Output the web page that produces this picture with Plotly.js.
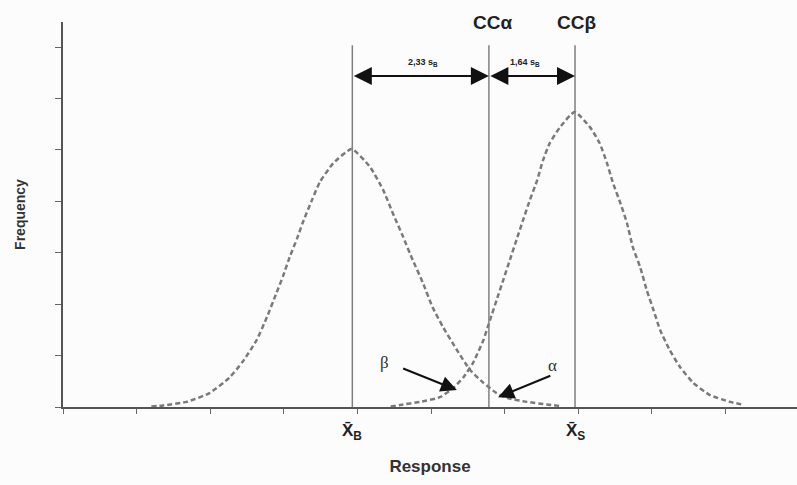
<!DOCTYPE html>
<html>
<head>
<meta charset="utf-8">
<script src="https://cdn.plot.ly/plotly-3.0.1.min.js"></script>
<style>
  html, body { margin: 0; padding: 0; background: #fcfcfc; }
  #chart { width: 797px; height: 485px; }
</style>
</head>
<body>
<div id="chart"></div>
<script>
// Blank distribution
const blankX = [1.20, 1.36, 1.68, 1.99, 2.26, 2.44, 2.63, 2.77, 2.90, 2.99, 3.08, 3.18, 3.26, 3.38, 3.49, 3.67, 3.92,
                4.17, 4.35, 4.48, 4.62, 4.75, 4.89, 5.02, 5.16, 5.35, 5.53, 5.71, 5.89, 6.05, 6.30, 6.57, 6.75];
const blankY = [0.01, 0.03, 0.10, 0.27, 0.57, 0.88, 1.30, 1.75, 2.22, 2.55, 2.92, 3.28, 3.60, 4.02, 4.38, 4.74, 5.02,
                4.67, 4.22, 3.77, 3.31, 2.86, 2.41, 1.94, 1.56, 1.11, 0.72, 0.47, 0.27, 0.17, 0.10, 0.05, 0.02];
// Signal distribution
const signalX = [4.45, 4.58, 4.85, 5.12, 5.30, 5.44, 5.57, 5.71, 5.80, 5.89, 5.98, 6.07, 6.16, 6.25, 6.34, 6.44, 6.52, 6.61, 6.75, 6.95,
                 7.16, 7.29, 7.39, 7.47, 7.57, 7.66, 7.74, 7.84, 7.93, 8.02, 8.11, 8.24, 8.38, 8.56, 8.79, 9.06, 9.25];
const signalY = [0.01, 0.04, 0.10, 0.19, 0.37, 0.58, 0.86, 1.30, 1.69, 2.08, 2.47, 2.86, 3.25, 3.64, 4.02, 4.41, 4.80, 5.13, 5.44, 5.74,
                 5.44, 5.13, 4.74, 4.36, 3.97, 3.58, 3.11, 2.72, 2.27, 1.89, 1.50, 1.11, 0.78, 0.47, 0.23, 0.10, 0.04];

// Key positions
const markerNames = ['xB', 'CCa', 'xS'];
const markerX = [3.93, 5.785, 6.955];
const lineTop = 7.04;
const arrowY = 6.44;
const intervalLabels = ['2,33 s<sub>B</sub>', '1,64 s<sub>B</sub>'];
const intervalLabelX = [4.89, 6.27];
const intervalLabelY = 6.71;
const topLabels = ['CCα', 'CCβ'];
const topLabelX = [5.83, 6.97];
const topLabelPaperY = 1.0;
const meanLabels = ['X\u0304<sub>B</sub>', 'X\u0304<sub>S</sub>'];
const meanLabelX = [3.93, 6.955];
const meanLabelPaperY = -0.065;
// alpha / beta pointers: [text x, text y, tail x, tail y, head x, head y]
const betaPtr = [4.37, 0.86, 4.60, 0.76, 5.35, 0.33];
const alphaPtr = [6.65, 0.80, 6.64, 0.62, 5.91, 0.19];
const xTicks = [0, 1, 2, 3, 4, 5, 6, 7, 8, 9];
const yTicks = [0, 1, 2, 3, 4, 5, 6, 7];

const dashStyle = '5px,3px';
const curveColor = '#7a7a7a';

const traces = [
  { x: blankX, y: blankY, mode: 'lines', line: { color: curveColor, width: 2.5, dash: dashStyle, shape: 'spline', smoothing: 0.5 }, hoverinfo: 'skip', showlegend: false },
  { x: signalX, y: signalY, mode: 'lines', line: { color: curveColor, width: 2.5, dash: dashStyle, shape: 'spline', smoothing: 0.5 }, hoverinfo: 'skip', showlegend: false }
];

const shapes = markerX.map(v => ({
  type: 'line', xref: 'x', yref: 'y', x0: v, x1: v, y0: 0, y1: lineTop,
  line: { color: '#808080', width: 1.5 }
}));

const bold = 'Liberation Sans, Arial, sans-serif';
const annotations = [];
// double arrows
annotations.push({ x: markerX[1], y: arrowY, ax: markerX[0], ay: arrowY, xref: 'x', yref: 'y', axref: 'x', ayref: 'y',
  text: '', showarrow: true, arrowhead: 2, startarrowhead: 2, arrowside: 'end+start', arrowsize: 1.8, startarrowsize: 1.8,
  arrowwidth: 2, arrowcolor: '#111' });
annotations.push({ x: markerX[2], y: arrowY, ax: markerX[1], ay: arrowY, xref: 'x', yref: 'y', axref: 'x', ayref: 'y',
  text: '', showarrow: true, arrowhead: 2, startarrowhead: 2, arrowside: 'end+start', arrowsize: 1.8, startarrowsize: 1.8,
  arrowwidth: 2, arrowcolor: '#111' });
intervalLabels.forEach((t, i) => annotations.push({ x: intervalLabelX[i], y: intervalLabelY, xref: 'x', yref: 'y', text: '<b>' + t + '</b>',
  showarrow: false, font: { family: bold, size: 9, color: '#222' } }));
topLabels.forEach((t, i) => annotations.push({ x: topLabelX[i], y: topLabelPaperY, xref: 'x', yref: 'paper', yanchor: 'middle', text: '<b>' + t + '</b>',
  showarrow: false, font: { family: bold, size: 19, color: '#222' } }));
meanLabels.forEach((t, i) => annotations.push({ x: meanLabelX[i], y: meanLabelPaperY, xref: 'x', yref: 'paper', yanchor: 'middle', text: '<b>' + t + '</b>',
  showarrow: false, font: { family: bold, size: 17, color: '#222' } }));
[['β', betaPtr], ['α', alphaPtr]].forEach(([t, p]) => {
  annotations.push({ x: p[0], y: p[1], xref: 'x', yref: 'y', text: t, showarrow: false,
    font: { family: 'Liberation Serif, Times New Roman, serif', size: 17, color: '#333' } });
  annotations.push({ x: p[4], y: p[5], ax: p[2], ay: p[3], xref: 'x', yref: 'y', axref: 'x', ayref: 'y', text: '',
    showarrow: true, arrowhead: 2, arrowsize: 1.6, arrowwidth: 2, arrowcolor: '#111' });
});

const layout = {
  width: 797, height: 485,
  margin: { l: 63, r: 0, t: 22, b: 78 },
  paper_bgcolor: '#fcfcfc', plot_bgcolor: '#fcfcfc',
  showlegend: false,
  xaxis: {
    range: [0, 9.97], showgrid: false, zeroline: false, showline: true, linecolor: '#555', linewidth: 2,
    ticks: 'outside', ticklen: 5, tickwidth: 1, tickcolor: '#666', tickvals: xTicks, showticklabels: false,
    title: { text: '<b>Response</b>', font: { family: bold, size: 17, color: '#333' }, standoff: 47 }
  },
  yaxis: {
    range: [0, 7.49], showgrid: false, zeroline: false, showline: true, linecolor: '#555', linewidth: 2,
    ticks: 'outside', ticklen: 6, tickwidth: 1, tickcolor: '#666', tickvals: yTicks, showticklabels: false,
    title: { text: '<b>Frequency</b>', font: { family: bold, size: 14, color: '#333' }, standoff: 26 }
  },
  shapes: shapes,
  annotations: annotations
};

Plotly.newPlot('chart', traces, layout, { staticPlot: true, displayModeBar: false });
</script>
</body>
</html>
